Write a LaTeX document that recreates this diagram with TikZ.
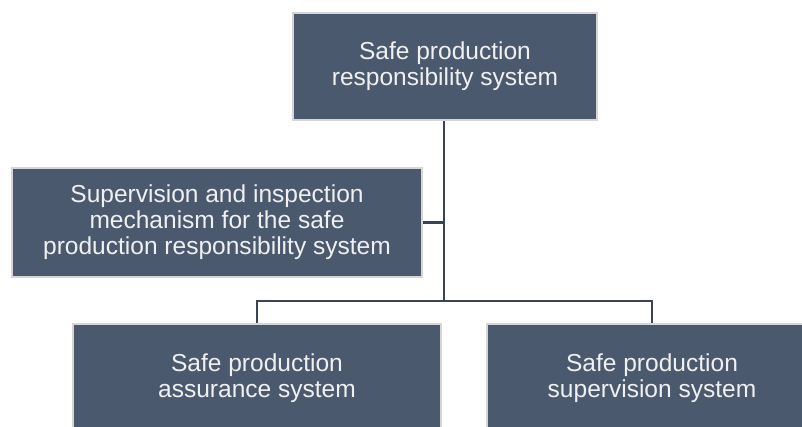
\documentclass[tikz,border=0pt]{standalone}
\usepackage{fontspec}
\setmainfont{Liberation Sans}
\usetikzlibrary{positioning}

\definecolor{boxfill}{RGB}{75,89,111}
\definecolor{boxedge}{RGB}{214,214,214}
\definecolor{linkcol}{RGB}{58,68,84}

\tikzset{every picture/.style={line width=0.75pt}}
\tikzset{
  sysbox/.style={draw=boxedge, line width=1.8pt, fill=boxfill, text=white!94!black,
    align=center, inner sep=0pt, font=\fontsize{18.4}{19.6}\selectfont},
  link/.style={draw=linkcol, line width=1.8pt}
}

\begin{document}
\begin{tikzpicture}[x=0.75pt,y=0.75pt,yscale=-1,xscale=1]
%set diagram size 802 x 426
\path[use as bounding box, clip] (0,0) rectangle (802,426);

%Shape: Rectangle [top]
\node[sysbox, minimum width=228pt, minimum height=80pt] (top) at (445,66.5)
  {Safe production\\responsibility system};
%Shape: Rectangle [mid]
\node[sysbox, minimum width=307.5pt, minimum height=81.75pt] (mid) at (217,222.5)
  {Supervision and inspection\\mechanism for the safe\\production responsibility system};
%Shape: Rectangle [assure]
\node[sysbox, minimum width=276pt, minimum height=81pt] (assure) at (257,378)
  {Safe production\\assurance system};
%Shape: Rectangle [superv]
\node[sysbox, minimum width=247.5pt, minimum height=81pt] (superv) at (652,378)
  {Safe production\\supervision system};

%Straight Lines
\coordinate (bus) at (444,301);
\draw[link] (top.south -| bus) -- (bus);
\draw[link] (mid.east) -- (mid.east -| bus);
\draw[link] (assure.north) |- (bus) -| (superv.north);

\end{tikzpicture}
\end{document}
